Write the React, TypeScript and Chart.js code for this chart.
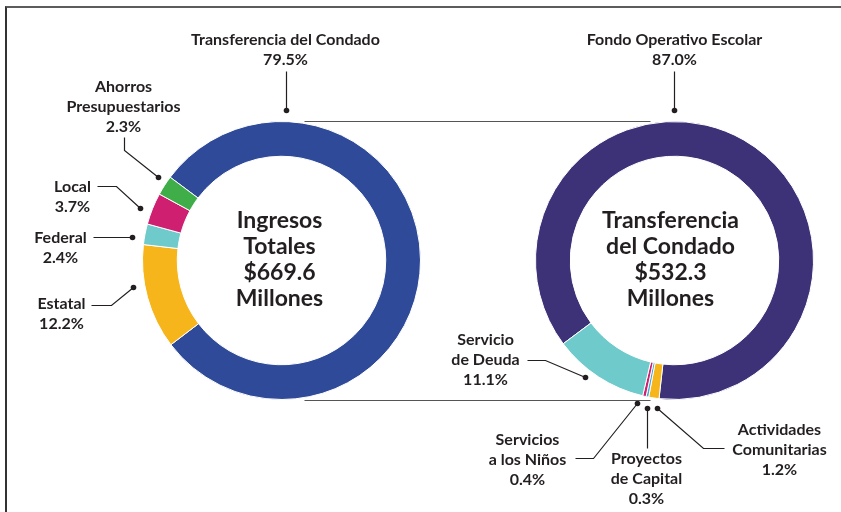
import React, { useEffect, useRef } from "react";
import { Chart, registerables } from "chart.js";

Chart.register(...registerables);

// ---- Data ----
const leftLabels = ["Transferencia del Condado", "Estatal", "Federal", "Local", "Ahorros Presupuestarios"];
const leftValues = [79.5, 12.2, 2.4, 3.7, 2.3];
const leftColors = ["#2F4A98", "#F6B51B", "#6FCBCB", "#CF1F71", "#3FAE49"];
const leftCenterText = ["Ingresos", "Totales", "$669.6", "Millones"];

const rightLabels = ["Fondo Operativo Escolar", "Actividades Comunitarias", "Proyectos de Capital", "Servicios a los Niños", "Servicio de Deuda"];
const rightValues = [87.0, 1.2, 0.3, 0.4, 11.1];
const rightColors = ["#3D3177", "#F6B51B", "#3FA9DE", "#CF1F71", "#6FCBCB"];
const rightCenterText = ["Transferencia", "del Condado", "$532.3", "Millones"];

// ---- Layout of callouts (relative to donut centre) ----
type Callout = { idx: number; name: string[]; tx: number; ty: number; path: [number, number][] };

const leftCallouts: Callout[] = [
  { idx: 0, name: ["Transferencia del Condado"], tx: 4, ty: -221, path: [[5, -189], [5, -150]] },
  { idx: 4, name: ["Ahorros", "Presupuestarios"], tx: -158, ty: -174, path: [[-157, -123], [-157, -110], [-123, -83]] },
  { idx: 3, name: ["Local"], tx: -209, ty: -74, path: [[-184, -74], [-165, -74], [-141, -52]] },
  { idx: 2, name: ["Federal"], tx: -221, ty: -23, path: [[-188, -23], [-149, -23]] },
  { idx: 1, name: ["Estatal"], tx: -220, ty: 43, path: [[-190, 45], [-170, 45], [-148, 27]] },
];

const rightCallouts: Callout[] = [
  { idx: 0, name: ["Fondo Operativo Escolar"], tx: 0, ty: -221, path: [[0, -189], [0, -150]] },
  { idx: 4, name: ["Servicio", "de Deuda"], tx: -189, ty: 79, path: [[-147, 100], [-129, 100], [-89, 117]] },
  { idx: 3, name: ["Servicios", "a los Niños"], tx: -147, ty: 179, path: [[-99, 198], [-81, 198], [-37, 143]] },
  { idx: 2, name: ["Proyectos", "de Capital"], tx: -28, ty: 198, path: [[-27, 188], [-27, 148]] },
  { idx: 1, name: ["Actividades", "Comunitarias"], tx: 105, ty: 169, path: [[50, 188], [29, 188], [-17, 148]] },
];

const TEXT = "#231F20";
const LABEL_FONT = "bold 16px Lato, 'Open Sans', sans-serif";
const CENTER_FONT = "bold 23px Lato, 'Open Sans', sans-serif";

function makePlugin(callouts: Callout[], values: number[], centerText: string[], centerDx: number, getOther?: () => Chart | null) {
  return {
    id: "callouts",
    afterDraw(chart: Chart) {
      const ctx = chart.ctx;
      const arc: any = chart.getDatasetMeta(0).data[0];
      const cx = arc.x, cy = arc.y;
      ctx.save();
      ctx.fillStyle = TEXT;
      ctx.textAlign = "center";
      ctx.textBaseline = "middle";
      // centre text
      ctx.font = CENTER_FONT;
      const lh = 26;
      const start = cy - ((centerText.length - 1) * lh) / 2 - 1;
      centerText.forEach((t, i) => ctx.fillText(t, cx + centerDx, start + i * lh));
      // callouts
      ctx.font = LABEL_FONT;
      callouts.forEach((c) => {
        const lines = [...c.name, `${values[c.idx].toFixed(1)}%`];
        lines.forEach((t, i) => ctx.fillText(t, cx + c.tx, cy + c.ty + i * 20));
        ctx.strokeStyle = TEXT;
        ctx.lineWidth = 1.2;
        ctx.beginPath();
        c.path.forEach(([x, y], i) => {
          if (i === 0) ctx.moveTo(cx + x, cy + y);
          else ctx.lineTo(cx + x, cy + y);
        });
        ctx.stroke();
        const [dx, dy] = c.path[c.path.length - 1];
        ctx.beginPath();
        ctx.arc(cx + dx, cy + dy, 2.8, 0, Math.PI * 2);
        ctx.fill();
      });
      // connectors between the two donuts
      const other = getOther ? getOther() : null;
      if (other) {
        const oa: any = other.getDatasetMeta(0).data[0];
        const r = arc.outerRadius;
        ctx.strokeStyle = "#555555";
        ctx.lineWidth = 1.2;
        ctx.beginPath();
        ctx.moveTo(oa.x + 23, oa.y - r);
        ctx.lineTo(cx - 24, cy - r);
        ctx.moveTo(oa.x + 23, oa.y + r + 1);
        ctx.lineTo(cx - 24, cy + r + 1);
        ctx.stroke();
      }
      ctx.restore();
    },
  };
}

function makeConfig(labels: string[], values: number[], colors: string[], rotation: number, padding: any, plugin: any): any {
  return {
    type: "doughnut",
    data: {
      labels,
      datasets: [
        {
          data: values,
          backgroundColor: colors,
          borderColor: "#ffffff",
          borderWidth: 1,
          hoverBorderWidth: 1,
          hoverOffset: 0,
          offset: 0,
        },
      ],
    },
    options: {
      responsive: false,
      animation: false,
      events: [],
      rotation,
      cutout: "75%",
      layout: { padding },
      plugins: { legend: { display: false }, tooltip: { enabled: false } },
    },
    plugins: [plugin],
  };
}

export default function App() {
  const leftRef = useRef<HTMLCanvasElement>(null);
  const rightRef = useRef<HTMLCanvasElement>(null);

  useEffect(() => {
    let leftChart: Chart | null = null;
    let rightChart: Chart | null = null;
    leftChart = new Chart(
      leftRef.current!,
      makeConfig(leftLabels, leftValues, leftColors, 306.8, { left: 142, right: 420, top: 121, bottom: 112 },
        makePlugin(leftCallouts, leftValues, leftCenterText, -2))
    );
    rightChart = new Chart(
      rightRef.current!,
      makeConfig(rightLabels, rightValues, rightColors, 233.2, { left: 535, right: 27, top: 121, bottom: 112 },
        makePlugin(rightCallouts, rightValues, rightCenterText, -4, () => leftChart))
    );
    return () => {
      leftChart && leftChart.destroy();
      rightChart && rightChart.destroy();
    };
  }, []);

  const cs: React.CSSProperties = { position: "absolute", left: 0, top: 0, width: 841, height: 512 };
  return (
    <div style={{ position: "absolute", left: 0, top: 0, width: 841, height: 512, overflow: "hidden", background: "#ffffff" }}>
      <div
        style={{
          position: "absolute",
          left: 5,
          top: 6,
          width: 900,
          height: 600,
          borderTop: "2px solid #5c5c5c",
          borderLeft: "2px solid #333333",
          boxSizing: "border-box",
        }}
      />
      <canvas ref={leftRef} width={841} height={512} style={cs} />
      <canvas ref={rightRef} width={841} height={512} style={cs} />
    </div>
  );
}
